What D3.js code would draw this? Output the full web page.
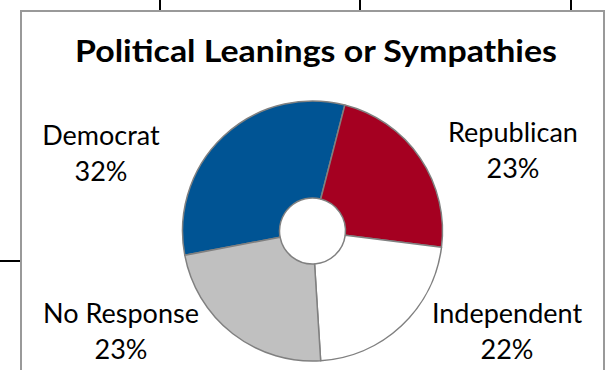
<!DOCTYPE html>
<html><head><meta charset="utf-8">
<script src="https://cdn.jsdelivr.net/npm/d3@7"></script>
<style>
html,body{margin:0;padding:0;background:#fff;}
svg{display:block;}
text{font-family:Lato,"Open Sans",sans-serif;fill:#000;}
</style></head>
<body>
<svg id="c" width="606" height="370"></svg>
<script>
const title = "Political Leanings or Sympathies";
const categories = ["Democrat", "Republican", "Independent", "No Response"];
const values = [32, 23, 22, 23];
const colors = ["#005494", "#A50021", "#FFFFFF", "#C0C0C0"];
const labelPos = [[101, 145], [513, 142], [507, 323], [121, 323]];

const svg = d3.select("#c");
// background page lines outside chart
svg.append("g").selectAll("line").data([160, 360, 571]).join("line")
  .attr("x1", d => d).attr("x2", d => d).attr("y1", 0).attr("y2", 11)
  .attr("stroke", "#000").attr("stroke-width", 2);
svg.append("line").attr("x1", 0).attr("x2", 21).attr("y1", 261).attr("y2", 261)
  .attr("stroke", "#000").attr("stroke-width", 2);
// chart frame
svg.append("rect").attr("x", 21).attr("y", 11).attr("width", 583).attr("height", 380)
  .attr("fill", "#fff").attr("stroke", "#999").attr("stroke-width", 2);

svg.append("text").attr("x", 316).attr("y", 62).attr("text-anchor", "middle")
  .attr("textLength", 482).attr("lengthAdjust", "spacingAndGlyphs")
  .style("font-weight", "bold").style("font-size", "30px").text(title);

const cx = 312.5, cy = 231;
const pie = d3.pie().sort(null).value(d => d)
  .startAngle(-100.8 * Math.PI / 180).endAngle((360 - 100.8) * Math.PI / 180);
const arc = d3.arc().innerRadius(33).outerRadius(130);
const g = svg.append("g").attr("transform", `translate(${cx},${cy})`);
g.selectAll("path").data(pie(values)).join("path")
  .attr("d", arc).attr("fill", (d, i) => colors[i])
  .attr("stroke", "#808080").attr("stroke-width", 1.5).attr("stroke-linejoin", "round");

const lg = svg.append("g");
categories.forEach((c, i) => {
  const t = lg.append("text").attr("x", labelPos[i][0]).attr("y", labelPos[i][1])
    .attr("text-anchor", "middle").style("font-size", "27px");
  t.append("tspan").attr("x", labelPos[i][0]).text(c);
  t.append("tspan").attr("x", labelPos[i][0]).attr("dy", 35.5).text(values[i] + "%");
});
</script>
</body></html>
